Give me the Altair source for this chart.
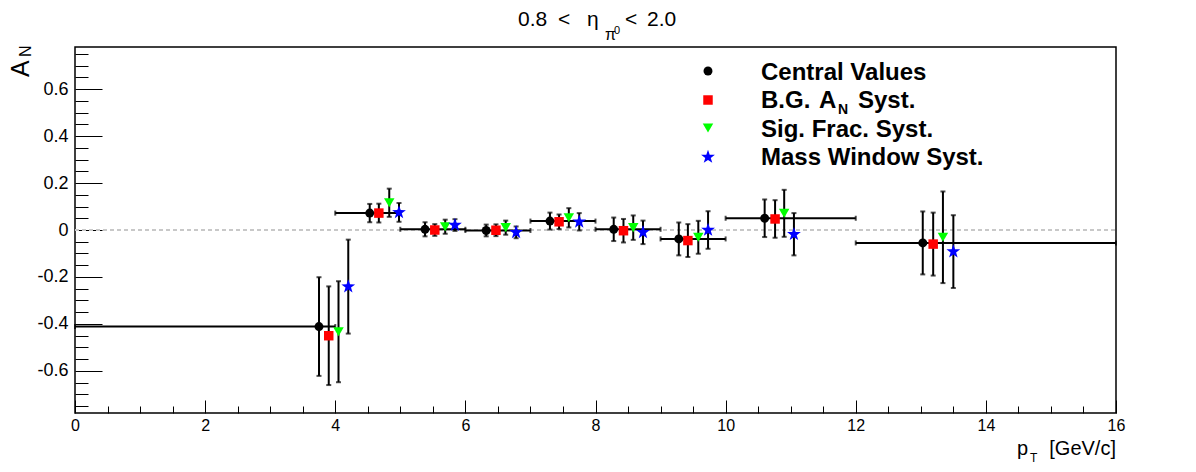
import altair as alt
import pandas as pd
import numpy as np

FONT = "Liberation Sans"

# ---- data ----
bin_lo = [0, 4, 5, 6, 7, 8, 9, 10, 12]
bin_hi = [4, 5, 6, 7, 8, 9, 10, 12, 16]

central_x = [3.75, 4.53, 5.38, 6.32, 7.30, 8.28, 9.28, 10.60, 13.03]
central_y = [-0.411, 0.072, 0.003, -0.002, 0.038, 0.003, -0.038, 0.050, -0.055]
central_err = [0.210, 0.039, 0.030, 0.025, 0.036, 0.050, 0.070, 0.080, 0.134]

bg_x = [3.90, 4.67, 5.53, 6.47, 7.44, 8.43, 9.42, 10.76, 13.19]
bg_y = [-0.450, 0.072, 0.000, -0.001, 0.035, -0.003, -0.045, 0.047, -0.060]
bg_err = [0.210, 0.040, 0.025, 0.025, 0.031, 0.050, 0.070, 0.080, 0.134]

sf_x = [4.05, 4.83, 5.69, 6.62, 7.59, 8.58, 9.58, 10.90, 13.34]
sf_y = [-0.433, 0.116, 0.014, 0.010, 0.052, 0.010, -0.031, 0.071, -0.031]
sf_err = [0.215, 0.060, 0.030, 0.030, 0.041, 0.052, 0.070, 0.100, 0.195]

mw_x = [4.20, 4.98, 5.84, 6.78, 7.75, 8.73, 9.73, 11.05, 13.50]
mw_y = [-0.241, 0.075, 0.021, -0.010, 0.035, -0.010, 0.000, -0.018, -0.092]
mw_err = [0.200, 0.040, 0.025, 0.025, 0.037, 0.050, 0.080, 0.090, 0.155]

x_major = [0, 2, 4, 6, 8, 10, 12, 14, 16]
y_major = [-0.6, -0.4, -0.2, 0.0, 0.2, 0.4, 0.6]
x_minor = [float(v) for v in np.round(np.arange(0, 16.001, 0.5), 2)]
y_minor = [float(v) for v in np.round(np.arange(-0.75, 0.7501, 0.05), 2)]

X_DOM = [0, 16]
Y_DOM = [-0.779, 0.779]

W, H = 1041, 366

xs = alt.Scale(domain=X_DOM, nice=False, zero=False)
ys = alt.Scale(domain=Y_DOM, nice=False, zero=False)

one = pd.DataFrame({"a": [0]})


def frame(xv, yv, err):
    d = pd.DataFrame({"x": xv, "y": yv, "err": err})
    d["lo"] = d["y"] - d["err"]
    d["hi"] = d["y"] + d["err"]
    return d


def X(f):
    return alt.X(f, scale=xs, axis=None)


def Y(f):
    return alt.Y(f, scale=ys, axis=None)


def series(d, color, shape, size, xerr=False):
    layers = []
    if xerr:
        layers.append(alt.Chart(d).mark_rule(color="black", strokeWidth=2).encode(
            x=X("xlo:Q"), x2="xhi:Q", y=Y("y:Q")))
        layers.append(alt.Chart(d).transform_fold(["xlo", "xhi"], as_=["k", "v"]).mark_tick(
            orient="vertical", size=5, thickness=2, color="black").encode(
            x=X("v:Q"), y=Y("y:Q")))
    layers.append(alt.Chart(d).mark_rule(color="black", strokeWidth=2).encode(
        x=X("x:Q"), y=Y("lo:Q"), y2="hi:Q"))
    layers.append(alt.Chart(d).transform_fold(["lo", "hi"], as_=["k", "v"]).mark_tick(
        orient="horizontal", size=5, thickness=2, color="black").encode(
        x=X("x:Q"), y=Y("v:Q")))
    layers.append(alt.Chart(d).mark_point(
        shape=shape, filled=True, size=size, color=color, opacity=1, strokeWidth=0).encode(
        x=X("x:Q"), y=Y("y:Q")))
    return layers


STAR = ("M0,-1L0.235,-0.324L0.951,-0.309L0.380,0.124L0.588,0.809L0,0.4"
        "L-0.588,0.809L-0.380,0.124L-0.951,-0.309L-0.235,-0.324Z")

central = frame(central_x, central_y, central_err)
central["xlo"] = bin_lo
central["xhi"] = bin_hi
bg = frame(bg_x, bg_y, bg_err)
sf = frame(sf_x, sf_y, sf_err)
mw = frame(mw_x, mw_y, mw_err)

# ---- axes ----
zero_df = pd.DataFrame({"x0": [X_DOM[0]], "x1": [X_DOM[1]], "z": [0.0]})

label_x_axis = alt.Axis(values=x_major, tickSize=0, domain=False, grid=False,
                        labelFont=FONT, labelFontSize=16, labelPadding=4,
                        labelFlush=False, labelOverlap=False, labelColor="black",
                        title=None)
label_y_axis = alt.Axis(values=y_major, tickSize=0, domain=False, grid=False,
                        labelFont=FONT, labelFontSize=18, labelPadding=7,
                        labelFlush=False, labelOverlap=False, labelColor="black",
                        labelExpr="datum.value == 0 ? '0' : (datum.value < 0 ? '-' + format(-datum.value, '.1f') : format(datum.value, '.1f'))",
                        title=None)

tick_x_axis = alt.Axis(orient="top", offset=-H, values=x_minor, labels=False,
                       domain=False, grid=False, tickColor="black", tickWidth=1,
                       tickSize={"condition": {"test": "datum.value % 2 == 0", "value": 13}, "value": 7},
                       title=None)
tick_y_axis = alt.Axis(orient="right", offset=-W, values=y_minor, labels=False,
                       domain=False, grid=False, tickColor="black", tickWidth=1,
                       tickSize={"condition": {"test": "abs(datum.value * 5 - round(datum.value * 5)) < 0.001", "value": 27}, "value": 13},
                       title=None)

zero_line = alt.Chart(zero_df).mark_rule(color="#c8c8c8", strokeWidth=2, strokeDash=[4, 3]).encode(
    x=alt.X("x0:Q", scale=xs, axis=label_x_axis), x2="x1:Q",
    y=alt.Y("z:Q", scale=ys, axis=label_y_axis))
tick_layer = alt.Chart(zero_df).mark_rule(opacity=0).encode(
    x=alt.X("x0:Q", scale=xs, axis=tick_x_axis), x2="x1:Q",
    y=alt.Y("z:Q", scale=ys, axis=tick_y_axis))


def txt(s, x, y, size, bold=False, angle=0, align="left"):
    kw = dict(text=s, font=FONT, fontSize=size, align=align, baseline="alphabetic",
              color="black", fontWeight="bold" if bold else "normal")
    if angle:
        kw["angle"] = angle
    return alt.Chart(one).mark_text(**kw).encode(x=alt.value(x), y=alt.value(y))


def pt(x, y, color, shape, size):
    return alt.Chart(one).mark_point(shape=shape, filled=True, size=size, color=color,
                                     opacity=1, strokeWidth=0).encode(x=alt.value(x), y=alt.value(y))


texts = [
    # title (page x minus 75, page y minus 47)
    txt("0.8", 443, -21, 21),
    txt("<", 483, -21, 21),
    txt("η", 512, -21, 21),
    txt("π", 530, -7, 16),
    txt("0", 539, -13, 11),
    txt("<", 550, -21, 21),
    txt("2.0", 572, -21, 21),
    # y title
    txt("A", -46, 30, 25, angle=270),
    txt("N", -44, 10, 16, angle=270),
    # x title
    txt("p", 942, 408, 20),
    txt("T", 955, 415, 12),
    txt("[GeV/c]", 1041, 408, 20, align="right"),
    # legend
    pt(633, 24, "black", "circle", 80),
    txt("Central Values", 686, 33, 24, bold=True),
    pt(633, 53, "red", "square", 90),
    txt("B.G.", 686, 61, 24, bold=True),
    txt("A", 744, 61, 24, bold=True),
    txt("N", 763, 67, 14, bold=True),
    txt("Syst.", 783, 61, 24, bold=True),
    pt(633, 81, "#00ff00", "triangle-down", 110),
    txt("Sig. Frac. Syst.", 686, 90, 24, bold=True),
    pt(633, 110, "blue", STAR, 210),
    txt("Mass Window Syst.", 686, 118, 24, bold=True),
]

layers = [zero_line, tick_layer]
layers += series(central, "black", "circle", 80, xerr=True)
layers += series(bg, "red", "square", 90)
layers += series(sf, "#00ff00", "triangle-down", 110)
layers += series(mw, "blue", STAR, 210)
layers += texts

chart = alt.layer(*layers).resolve_axis(x="independent", y="independent").properties(
    width=W, height=H,
    autosize=alt.AutoSizeParams(type="none"),
    padding={"left": 67, "top": 39, "right": 72, "bottom": 50},
    background="white",
).configure_view(stroke="black", strokeWidth=1.5)

chart.save("out.html", embed_options={"renderer": "svg", "actions": False})
